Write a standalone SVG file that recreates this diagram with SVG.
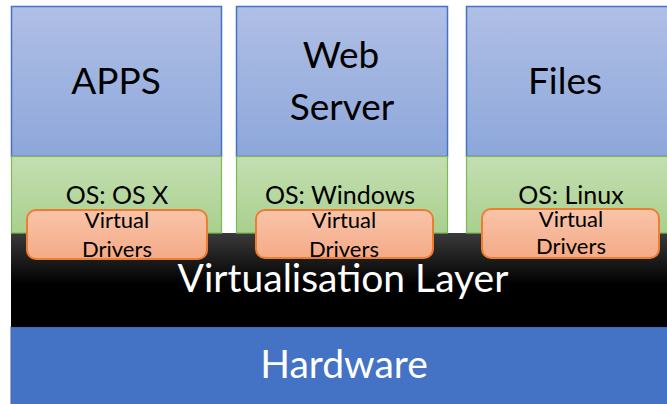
<svg xmlns="http://www.w3.org/2000/svg" width="667" height="404" viewBox="0 0 667 404">
  <defs>
    <linearGradient id="gBlue" x1="0" y1="0" x2="0" y2="1">
      <stop offset="0" stop-color="#b0bfe5"/>
      <stop offset="1" stop-color="#8da7db"/>
    </linearGradient>
    <linearGradient id="gGreen" x1="0" y1="0" x2="0" y2="1">
      <stop offset="0" stop-color="#c4dfb2"/>
      <stop offset="1" stop-color="#a9d08e"/>
    </linearGradient>
    <linearGradient id="gBlack" x1="0" y1="0" x2="0" y2="1">
      <stop offset="0" stop-color="#3a3a3a"/>
      <stop offset="0.55" stop-color="#000000"/>
      <stop offset="1" stop-color="#000000"/>
    </linearGradient>
    <linearGradient id="gOrange" x1="0" y1="0" x2="0" y2="1">
      <stop offset="0" stop-color="#f9c4aa"/>
      <stop offset="1" stop-color="#f4aa86"/>
    </linearGradient>
    <style>
      text { font-family: Lato, "Open Sans", sans-serif; text-anchor: middle; }
      .app { fill: url(#gBlue); stroke: #4472c4; stroke-width: 1.5; }
      .os { fill: url(#gGreen); stroke: #7dba57; stroke-width: 1.2; }
      .drv { fill: url(#gOrange); stroke: #ed7d31; stroke-width: 2; }
      .big { font-size: 37px; fill: #000; }
      .ost { font-size: 25px; fill: #000; }
      .drvt { font-size: 22px; fill: #000; }
      .white { font-size: 39px; fill: #fff; }
    </style>
  </defs>

  <rect width="667" height="404" fill="#ffffff"/>

  <!-- hardware base -->
  <g id="hardware">
    <rect x="11" y="327" width="660" height="80" fill="#4472c4" stroke="#3a64ae" stroke-width="1"/>
    <text class="white" x="344" y="378">Hardware</text>
  </g>

  <!-- hypervisor band -->
  <g id="virtualisation-layer">
    <rect x="11" y="233" width="660" height="94" fill="url(#gBlack)"/>
    <text class="white" x="343" y="292">Virtualisation Layer</text>
  </g>

  <!-- guest 1 -->
  <g id="vm-apps">
    <rect class="app" x="11.5" y="6.5" width="210" height="150"/>
    <text class="big" x="116" y="94">APPS</text>
    <rect class="os" x="11.5" y="156.5" width="210" height="76.5"/>
    <text class="ost" x="117" y="204">OS: OS X</text>
  </g>

  <!-- guest 2 -->
  <g id="vm-web">
    <rect class="app" x="236.5" y="6.5" width="211" height="150"/>
    <text class="big" x="341" y="68">Web</text>
    <text class="big" x="342" y="120">Server</text>
    <rect class="os" x="236.5" y="156.5" width="211" height="76.5"/>
    <text class="ost" x="340" y="204">OS: Windows</text>
  </g>

  <!-- guest 3 -->
  <g id="vm-files">
    <rect class="app" x="466.5" y="6.5" width="210" height="150"/>
    <text class="big" x="565" y="94">Files</text>
    <rect class="os" x="466.5" y="156.5" width="210" height="76.5"/>
    <text class="ost" x="571" y="204">OS: Linux</text>
  </g>

  <!-- virtual driver blocks -->
  <g id="drivers-osx">
    <rect class="drv" x="27" y="210" width="180" height="49" rx="9"/>
    <text class="drvt" x="117" y="228">Virtual</text>
    <text class="drvt" x="117" y="257">Drivers</text>
  </g>
  <g id="drivers-windows">
    <rect class="drv" x="256" y="210" width="177" height="48" rx="9"/>
    <text class="drvt" x="344" y="228">Virtual</text>
    <text class="drvt" x="344" y="257">Drivers</text>
  </g>
  <g id="drivers-linux">
    <rect class="drv" x="482" y="209" width="177" height="49" rx="9"/>
    <text class="drvt" x="571" y="227">Virtual</text>
    <text class="drvt" x="571" y="254">Drivers</text>
  </g>
</svg>
